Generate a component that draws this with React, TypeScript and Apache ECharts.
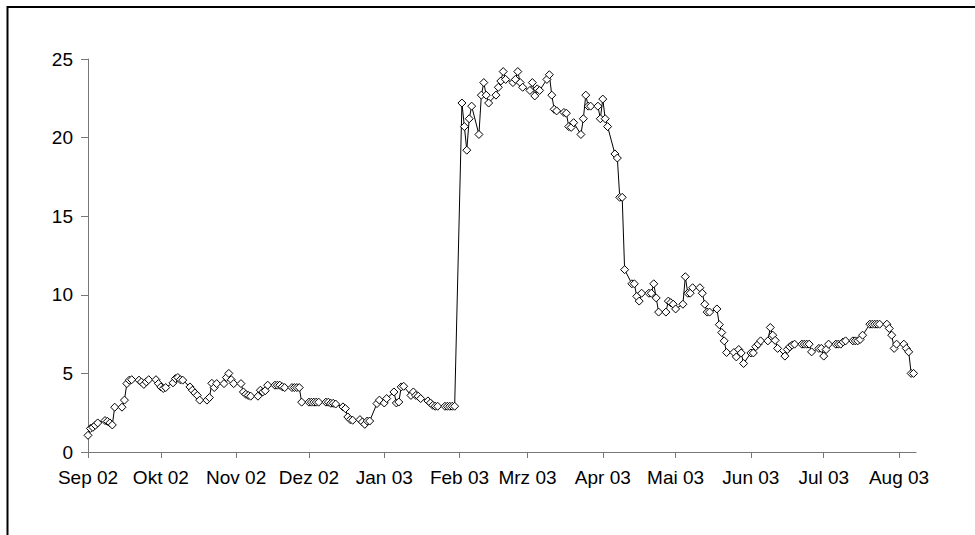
import React, { useEffect, useRef } from "react";
import * as echarts from "echarts";

// Tick labels (German month abbreviations), one per month tick (2nd of each month)
const monthLabels = [
  "Sep 02", "Okt 02", "Nov 02", "Dez 02", "Jan 03", "Feb 03",
  "Mrz 03", "Apr 03", "Mai 03", "Jun 03", "Jul 03", "Aug 03",
];

const axisStart = "2002-09-02";
const axisEnd = "2003-08-09";

const yTicks = [0, 5, 10, 15, 20, 25];

const dates2002 = [
  "2002-09-02", "2002-09-03", "2002-09-04", "2002-09-05", "2002-09-06",
  "2002-09-09", "2002-09-10", "2002-09-11", "2002-09-12", "2002-09-13",
  "2002-09-16", "2002-09-17", "2002-09-18", "2002-09-19", "2002-09-20",
  "2002-09-23", "2002-09-24", "2002-09-25", "2002-09-26", "2002-09-27",
  "2002-09-30", "2002-10-01", "2002-10-02", "2002-10-03", "2002-10-04",
  "2002-10-07", "2002-10-08", "2002-10-09", "2002-10-10", "2002-10-11",
  "2002-10-14", "2002-10-15", "2002-10-16", "2002-10-17", "2002-10-18",
  "2002-10-21", "2002-10-22", "2002-10-23", "2002-10-24", "2002-10-25",
  "2002-10-28", "2002-10-29", "2002-10-30", "2002-10-31", "2002-11-01",
  "2002-11-04", "2002-11-05", "2002-11-06", "2002-11-07", "2002-11-08",
  "2002-11-11", "2002-11-12", "2002-11-13", "2002-11-14", "2002-11-15",
  "2002-11-18", "2002-11-19", "2002-11-20", "2002-11-21", "2002-11-22",
  "2002-11-25", "2002-11-26", "2002-11-27", "2002-11-28", "2002-11-29",
  "2002-12-02", "2002-12-03", "2002-12-04", "2002-12-05", "2002-12-06",
  "2002-12-09", "2002-12-10", "2002-12-11", "2002-12-12", "2002-12-13",
  "2002-12-16", "2002-12-17", "2002-12-18", "2002-12-19", "2002-12-20",
  "2002-12-23", "2002-12-24", "2002-12-25", "2002-12-26", "2002-12-27",
  "2002-12-30", "2002-12-31",
];
const values2002 = [
  1.06, 1.5, 1.57, 1.7, 1.85,
  2.0, 1.95, 1.85, 1.72, 2.85,
  2.85, 3.3, 4.35, 4.57, 4.6,
  4.57, 4.45, 4.3, 4.46, 4.6,
  4.6, 4.35, 4.14, 4.04, 4.1,
  4.4, 4.67, 4.74, 4.6, 4.57,
  4.14, 3.93, 3.76, 3.6, 3.3,
  3.3, 3.46, 4.37, 4.1, 4.35,
  4.35, 4.74, 5.0, 4.6, 4.35,
  4.35, 3.82, 3.67, 3.6, 3.55,
  3.55, 3.93, 3.82, 3.9, 4.25,
  4.25, 4.25, 4.25, 4.15, 4.1,
  4.1, 4.1, 4.1, 4.1, 3.17,
  3.17, 3.17, 3.17, 3.17, 3.17,
  3.17, 3.17, 3.1, 3.1, 3.05,
  2.87, 2.76, 2.23, 2.06, 2.02,
  2.06, 1.91, 1.76, 1.97, 1.97,
  3.08, 3.3,
];

const dates2003 = [
  "2003-01-02", "2003-01-03",
  "2003-01-06", "2003-01-07", "2003-01-08", "2003-01-09", "2003-01-10",
  "2003-01-13", "2003-01-14", "2003-01-15", "2003-01-16", "2003-01-17",
  "2003-01-20", "2003-01-21", "2003-01-22", "2003-01-23", "2003-01-24",
  "2003-01-27", "2003-01-28", "2003-01-29", "2003-01-30", "2003-01-31",
  "2003-02-03", "2003-02-04", "2003-02-05", "2003-02-06", "2003-02-07",
  "2003-02-10", "2003-02-11", "2003-02-12", "2003-02-13", "2003-02-14",
  "2003-02-17", "2003-02-18", "2003-02-19", "2003-02-20", "2003-02-21",
  "2003-02-24", "2003-02-25", "2003-02-26", "2003-02-27", "2003-02-28",
  "2003-03-03", "2003-03-04", "2003-03-05", "2003-03-06", "2003-03-07",
  "2003-03-10", "2003-03-11", "2003-03-12", "2003-03-13", "2003-03-14",
  "2003-03-17", "2003-03-18", "2003-03-19", "2003-03-20", "2003-03-21",
  "2003-03-24", "2003-03-25", "2003-03-26", "2003-03-27", "2003-03-28",
  "2003-03-31", "2003-04-01", "2003-04-02", "2003-04-03", "2003-04-04",
  "2003-04-07", "2003-04-08", "2003-04-09", "2003-04-10", "2003-04-11",
  "2003-04-14", "2003-04-15", "2003-04-16", "2003-04-17", "2003-04-18",
  "2003-04-21", "2003-04-22", "2003-04-23", "2003-04-24", "2003-04-25",
  "2003-04-28", "2003-04-29", "2003-04-30", "2003-05-01", "2003-05-02",
  "2003-05-05", "2003-05-06", "2003-05-07", "2003-05-08", "2003-05-09",
  "2003-05-12", "2003-05-13", "2003-05-14", "2003-05-15", "2003-05-16",
  "2003-05-19", "2003-05-20", "2003-05-21", "2003-05-22", "2003-05-23",
  "2003-05-26", "2003-05-27", "2003-05-28", "2003-05-29", "2003-05-30",
  "2003-06-02", "2003-06-03", "2003-06-04", "2003-06-05", "2003-06-06",
  "2003-06-09", "2003-06-10", "2003-06-11", "2003-06-12", "2003-06-13",
  "2003-06-16", "2003-06-17", "2003-06-18", "2003-06-19", "2003-06-20",
  "2003-06-23", "2003-06-24", "2003-06-25", "2003-06-26", "2003-06-27",
  "2003-06-30", "2003-07-01", "2003-07-02", "2003-07-03", "2003-07-04",
  "2003-07-07", "2003-07-08", "2003-07-09", "2003-07-10", "2003-07-11",
  "2003-07-14", "2003-07-15", "2003-07-16", "2003-07-17", "2003-07-18",
  "2003-07-21", "2003-07-22", "2003-07-23", "2003-07-24", "2003-07-25",
  "2003-07-28", "2003-07-29", "2003-07-30", "2003-07-31", "2003-08-01",
  "2003-08-04", "2003-08-05", "2003-08-06", "2003-08-07", "2003-08-08",
];
const values2003 = [
  3.12, 3.4,
  3.82, 3.12, 3.18, 4.14, 4.18,
  3.6, 3.82, 3.6, 3.55, 3.4,
  3.25, 3.12, 2.97, 2.91, 2.91,
  2.91, 2.91, 2.91, 2.91, 2.91,
  22.2, 20.7, 19.2, 21.2, 22.0,
  20.2, 22.7, 23.5, 22.7, 22.2,
  22.7, 23.2, 23.6, 24.2, 23.7,
  23.5, 23.7, 24.2, 23.5, 23.2,
  23.0, 23.5, 22.65, 23.1, 23.0,
  23.7, 24.0, 22.7, 21.8, 21.7,
  21.6, 21.55, 20.7, 20.65, 20.95,
  20.2, 21.2, 22.7, 22.0, 22.0,
  22.0, 21.2, 22.45, 21.2, 20.7,
  18.96, 18.7, 16.2, 16.2, 11.6,
  10.7, 10.7, 9.9, 9.6, 10.1,
  10.1, 10.1, 10.7, 9.8, 8.9,
  8.9, 9.6, 9.5, 9.4, 9.1,
  9.4, 11.15, 10.1, 10.1, 10.45,
  10.45, 10.1, 9.4, 8.9, 8.9,
  9.1, 8.1, 7.6, 7.07, 6.33,
  6.33, 6.05, 6.52, 6.3, 5.63,
  6.3, 6.3, 6.7, 6.86, 7.07,
  7.07, 7.92, 7.43, 7.1, 6.59,
  6.1, 6.52, 6.69, 6.8, 6.86,
  6.86, 6.86, 6.86, 6.86, 6.37,
  6.59, 6.59, 6.1, 6.52, 6.86,
  6.86, 6.86, 6.86, 7.0, 7.07,
  7.07, 7.07, 7.07, 7.16, 7.43,
  8.13, 8.13, 8.13, 8.13, 8.13,
  8.13, 7.86, 7.43, 6.59, 6.86,
  6.86, 6.59, 6.37, 5.0, 5.0,
];

function fmt(d: Date): string {
  const y = d.getUTCFullYear();
  const m = String(d.getUTCMonth() + 1).padStart(2, "0");
  const dd = String(d.getUTCDate()).padStart(2, "0");
  return `${y}-${m}-${dd}`;
}

function buildDays(): string[] {
  const out: string[] = [];
  const d = new Date(axisStart + "T00:00:00Z");
  const end = new Date(axisEnd + "T00:00:00Z");
  while (d.getTime() <= end.getTime()) {
    out.push(fmt(d));
    d.setUTCDate(d.getUTCDate() + 1);
  }
  return out;
}

export default function App() {
  const ref = useRef<HTMLDivElement>(null);

  useEffect(() => {
    if (!ref.current) return;
    const chart = echarts.init(ref.current, null, { renderer: "svg" });

    const days = buildDays();
    const lookup = new Map<string, number>();
    dates2002.forEach((d, i) => lookup.set(d, values2002[i]));
    dates2003.forEach((d, i) => lookup.set(d, values2003[i]));
    const seriesData = days.map((d) => (lookup.has(d) ? lookup.get(d)! : null));

    const tickDays = days.filter((d) => d.endsWith("-02"));
    const labelFor = (d: string) => {
      const idx = tickDays.indexOf(d);
      return idx >= 0 ? monthLabels[idx] : "";
    };
    const isTick = (_i: number, v: string) => v.endsWith("-02");

    const textStyle = {
      color: "#000",
      fontFamily: "'Liberation Sans', Arial, sans-serif",
      fontSize: 19,
    };

    chart.setOption({
      animation: false,
      backgroundColor: "#fff",
      grid: { left: 88, right: 59, top: 59, bottom: 83, containLabel: false },
      graphic: [
        {
          type: "rect",
          shape: { x: 7.5, y: 7, width: 1200, height: 1200 },
          style: { fill: "none", stroke: "#000", lineWidth: 2 },
          silent: true,
        },
      ],
      xAxis: {
        type: "category",
        data: days,
        boundaryGap: false,
        axisLine: { show: true, lineStyle: { color: "#777", width: 1 } },
        axisTick: {
          show: true,
          inside: false,
          length: 6,
          interval: isTick,
          lineStyle: { color: "#777" },
        },
        axisLabel: {
          ...textStyle,
          margin: 16,
          interval: isTick,
          formatter: (v: string) => labelFor(v),
        },
        splitLine: { show: false },
      },
      yAxis: {
        type: "value",
        min: yTicks[0],
        max: yTicks[yTicks.length - 1],
        interval: 5,
        axisLine: { show: true, lineStyle: { color: "#777", width: 1 } },
        axisTick: { show: true, inside: false, length: 7, lineStyle: { color: "#777" } },
        axisLabel: { ...textStyle, margin: 15 },
        splitLine: { show: false },
      },
      series: [
        {
          type: "line",
          data: seriesData,
          connectNulls: true,
          symbol: "diamond",
          symbolSize: 8,
          showAllSymbol: true,
          lineStyle: { color: "#000", width: 1 },
          itemStyle: { color: "#fff", borderColor: "#000", borderWidth: 1 },
          emphasis: { disabled: true },
        },
      ],
    });

    return () => chart.dispose();
  }, []);

  return (
    <div
      ref={ref}
      style={{ position: "absolute", left: 0, top: 0, width: 975, height: 535 }}
    />
  );
}
